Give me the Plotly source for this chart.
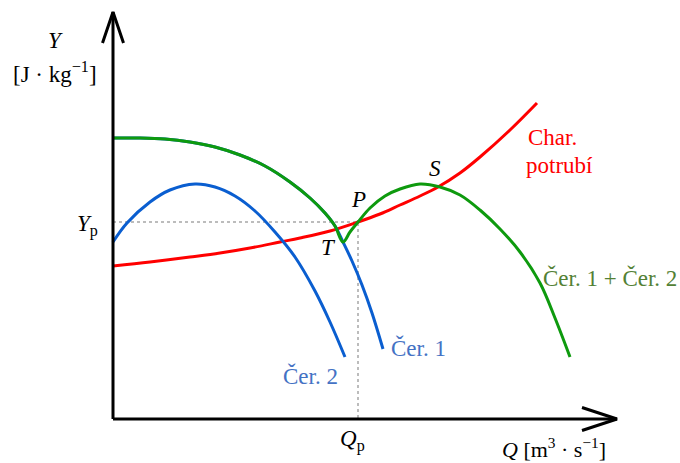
import plotly.graph_objects as go

# Characteristic curves (Q, Y) in arbitrary units
q_cer1 = [0, 2.7, 5.2, 7.7, 10.2, 12.7, 15.2, 17.7, 19.7, 21.2, 22.2, 23.0, 23.9, 24.9, 25.9, 27.0]
y_cer1 = [28.1, 28.1, 28.0, 27.7, 27.2, 26.4, 25.3, 23.7, 22.1, 20.6, 19.3, 17.7, 15.8, 13.4, 10.6, 7.0]

q_cer2 = [0, 1.4, 3.7, 5.7, 8.2, 10.2, 12.2, 14.2, 16.2, 18.2, 20.2, 21.7, 23.2]
y_cer2 = [17.7, 19.6, 21.7, 22.9, 23.5, 23.2, 22.3, 20.8, 18.7, 16.2, 12.8, 9.7, 6.2]

q_sum = [0, 2.7, 5.2, 7.7, 10.2, 12.7, 15.2, 17.7, 19.7, 21.2, 22.2, 23.0,
         23.7, 24.5, 25.7, 27.2, 28.7, 30.7, 32.7, 34.7, 36.7, 38.7, 40.7, 42.7, 44.2, 45.7]
y_sum = [28.1, 28.1, 28.0, 27.7, 27.2, 26.4, 25.3, 23.7, 22.1, 20.6, 19.3, 17.7,
         18.7, 19.7, 21.1, 22.3, 23.0, 23.5, 23.2, 22.4, 20.9, 19.0, 16.7, 13.6, 10.1, 6.2]

q_pipe = [0, 3.7, 7.7, 10.7, 13.7, 16.7, 18.7, 21.7, 24.5, 26.7, 28.7, 30.7, 32.5, 34.7, 36.7, 39.7, 42.4]
y_pipe = [15.3, 15.7, 16.2, 16.6, 17.1, 17.7, 18.1, 18.8, 19.7, 20.5, 21.4, 22.3, 23.2, 24.6, 26.2, 28.9, 31.6]

# Operating point P, point T and point S
q_p, y_p = 24.5, 19.7
pt_T = (21.5, 17.2)
pt_S = (32.2, 25.1)

# Axis extents and arrowheads
q_axis_end, y_axis_end = 50.4, 40.7
q_arrow = [46.9, 50.4, 46.9]
q_arrow_y = [1.15, 0, -1.15]
y_arrow_q = [-1.05, 0, 1.05]
y_arrow = [37.6, 40.7, 37.6]

RED = "#FF0000"
BLUE = "#0A5ED0"
GREEN = "#0E9A0E"
BLUE_TXT = "#4472C4"
GREEN_TXT = "#538135"
FONT = "Liberation Serif"

fig = go.Figure()


def line(x, y, color, width=3, dash=None):
    fig.add_trace(go.Scatter(x=x, y=y, mode="lines", hoverinfo="skip",
                             line=dict(color=color, width=width, dash=dash, shape="spline", smoothing=1.0)))


# dotted guides to P
fig.add_trace(go.Scatter(x=[0, q_p, q_p], y=[y_p, y_p, 0], mode="lines", hoverinfo="skip",
                         line=dict(color="#A6A6A6", width=1.5, dash="dot")))

line(q_pipe, y_pipe, RED)
line(q_cer2, y_cer2, BLUE)
line(q_cer1, y_cer1, BLUE)
line(q_sum, y_sum, GREEN)

# axes with arrows
for xs, ys in [([0, q_axis_end], [0, 0]), ([0, 0], [0, y_axis_end]),
               (q_arrow, q_arrow_y), (y_arrow_q, y_arrow)]:
    fig.add_trace(go.Scatter(x=xs, y=ys, mode="lines", hoverinfo="skip",
                             line=dict(color="black", width=3)))


def text(x, y, s, color="black", size=23, xanchor="center"):
    fig.add_annotation(x=x, y=y, text=s, showarrow=False, xanchor=xanchor, yanchor="middle",
                       font=dict(family=FONT, size=size, color=color))


text(-5.8, 37.9, "<i>Y</i>")
text(-5.8, 34.7, "[J · kg<sup>−1</sup>]")
text(-2.6, 19.4, "<i>Y</i><sub>p</sub>")
text(q_p - 0.6, -2.1, "<i>Q</i><sub>p</sub>")
text(44.1, -2.9, "<i>Q</i> [m<sup>3</sup> · s<sup>−1</sup>]", size=22)
text(q_p, 22.0, "<i>P</i>")
text(pt_T[0], pt_T[1], "<i>T</i>")
text(pt_S[0], pt_S[1], "<i>S</i>")
text(41.3, 28.2, "Char.", RED, xanchor="left")
text(41.1, 25.4, "potrubí", RED, xanchor="left")
text(27.6, 7.1, "Čer. 1", BLUE_TXT, xanchor="left")
text(19.7, 4.3, "Čer. 2", BLUE_TXT)
text(42.8, 14.1, "Čer. 1 + Čer. 2", GREEN_TXT, xanchor="left")

fig.update_layout(
    width=680, height=463, margin=dict(l=0, r=0, t=0, b=0),
    plot_bgcolor="white", paper_bgcolor="white", showlegend=False,
    xaxis=dict(range=[-11.3, 56.7], visible=False, fixedrange=True),
    yaxis=dict(range=[-4.4, 41.9], visible=False, fixedrange=True),
)

fig.write_html("out.html")
